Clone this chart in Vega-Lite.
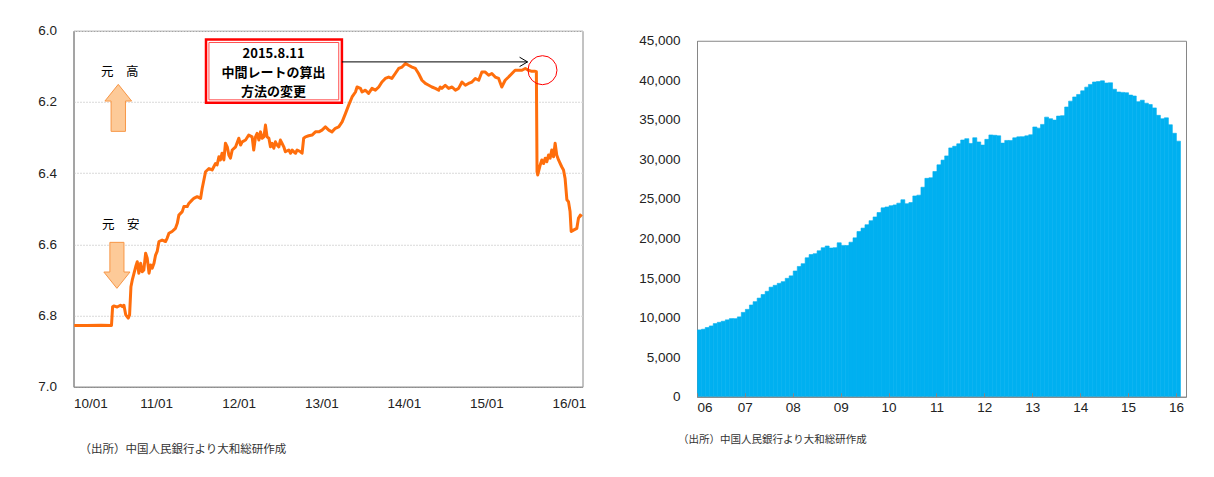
{
  "$schema": "https://vega.github.io/schema/vega-lite/v6.json",
  "padding": {"left": 36.5, "top": 22.5, "right": 0, "bottom": 0},
  "background": "white",
  "spacing": 51.5,
  "center": true,
  "config": {
    "view": {"stroke": "#868686", "strokeWidth": 1},
    "axis": {
      "labelFont": "Liberation Sans",
      "labelFontSize": 13.5,
      "labelColor": "#222222",
      "domainColor": "#868686",
      "ticks": false,
      "title": null
    }
  },
  "hconcat": [
    {
      "width": 509,
      "height": 356,
      "title": {"text": "（出所）中国人民銀行より大和総研作成", "orient": "bottom", "anchor": "start", "frame": "group", "dx": 6, "offset": 34, "fontSize": 11.5, "fontWeight": "normal", "font": "Noto Sans CJK JP", "color": "#333333"},
      "layer": [
        {
          "data": {"values": [
            {"d": "2010-01-04", "v": 6.828}, {"d": "2010-03-01", "v": 6.828}, {"d": "2010-05-03", "v": 6.827}, {"d": "2010-06-18", "v": 6.828},
            {"d": "2010-06-23", "v": 6.775}, {"d": "2010-06-28", "v": 6.773}, {"d": "2010-07-13", "v": 6.776}, {"d": "2010-07-28", "v": 6.771},
            {"d": "2010-08-05", "v": 6.775}, {"d": "2010-08-12", "v": 6.771}, {"d": "2010-08-20", "v": 6.798}, {"d": "2010-08-31", "v": 6.807},
            {"d": "2010-09-06", "v": 6.798}, {"d": "2010-09-12", "v": 6.719}, {"d": "2010-09-18", "v": 6.700}, {"d": "2010-10-03", "v": 6.663},
            {"d": "2010-10-10", "v": 6.649}, {"d": "2010-10-17", "v": 6.681}, {"d": "2010-10-25", "v": 6.653}, {"d": "2010-11-01", "v": 6.677},
            {"d": "2010-11-08", "v": 6.672}, {"d": "2010-11-16", "v": 6.625}, {"d": "2010-11-23", "v": 6.639}, {"d": "2010-12-01", "v": 6.681},
            {"d": "2010-12-08", "v": 6.658}, {"d": "2010-12-15", "v": 6.667}, {"d": "2010-12-23", "v": 6.653}, {"d": "2010-12-30", "v": 6.630},
            {"d": "2011-01-06", "v": 6.620}, {"d": "2011-01-14", "v": 6.592}, {"d": "2011-01-28", "v": 6.588}, {"d": "2011-02-12", "v": 6.592},
            {"d": "2011-02-19", "v": 6.583}, {"d": "2011-02-27", "v": 6.569}, {"d": "2011-03-13", "v": 6.564}, {"d": "2011-03-28", "v": 6.555},
            {"d": "2011-04-05", "v": 6.541}, {"d": "2011-04-12", "v": 6.518}, {"d": "2011-04-27", "v": 6.508}, {"d": "2011-05-04", "v": 6.494},
            {"d": "2011-05-19", "v": 6.494}, {"d": "2011-05-26", "v": 6.485}, {"d": "2011-06-10", "v": 6.475}, {"d": "2011-06-17", "v": 6.471},
            {"d": "2011-07-02", "v": 6.466}, {"d": "2011-07-17", "v": 6.471}, {"d": "2011-07-24", "v": 6.443}, {"d": "2011-08-08", "v": 6.396},
            {"d": "2011-08-23", "v": 6.387}, {"d": "2011-09-06", "v": 6.391}, {"d": "2011-09-21", "v": 6.373}, {"d": "2011-09-28", "v": 6.377},
            {"d": "2011-10-06", "v": 6.354}, {"d": "2011-10-13", "v": 6.363}, {"d": "2011-10-20", "v": 6.344}, {"d": "2011-10-28", "v": 6.363},
            {"d": "2011-11-04", "v": 6.316}, {"d": "2011-11-12", "v": 6.326}, {"d": "2011-11-19", "v": 6.349}, {"d": "2011-11-26", "v": 6.358},
            {"d": "2011-12-04", "v": 6.335}, {"d": "2011-12-19", "v": 6.326}, {"d": "2012-01-02", "v": 6.302}, {"d": "2012-01-10", "v": 6.321},
            {"d": "2012-01-17", "v": 6.312}, {"d": "2012-02-01", "v": 6.307}, {"d": "2012-02-15", "v": 6.293}, {"d": "2012-03-01", "v": 6.298},
            {"d": "2012-03-08", "v": 6.335}, {"d": "2012-03-16", "v": 6.298}, {"d": "2012-03-23", "v": 6.288}, {"d": "2012-03-31", "v": 6.307},
            {"d": "2012-04-07", "v": 6.284}, {"d": "2012-04-14", "v": 6.302}, {"d": "2012-04-22", "v": 6.298}, {"d": "2012-04-29", "v": 6.265},
            {"d": "2012-05-06", "v": 6.298}, {"d": "2012-05-14", "v": 6.302}, {"d": "2012-05-21", "v": 6.326}, {"d": "2012-05-28", "v": 6.316},
            {"d": "2012-06-05", "v": 6.330}, {"d": "2012-06-12", "v": 6.312}, {"d": "2012-06-19", "v": 6.321}, {"d": "2012-06-27", "v": 6.326},
            {"d": "2012-07-04", "v": 6.307}, {"d": "2012-07-11", "v": 6.316}, {"d": "2012-07-19", "v": 6.326}, {"d": "2012-07-26", "v": 6.340},
            {"d": "2012-08-10", "v": 6.335}, {"d": "2012-08-18", "v": 6.344}, {"d": "2012-08-25", "v": 6.335}, {"d": "2012-09-01", "v": 6.340},
            {"d": "2012-09-09", "v": 6.344}, {"d": "2012-09-16", "v": 6.335}, {"d": "2012-10-01", "v": 6.340}, {"d": "2012-10-08", "v": 6.344},
            {"d": "2012-10-15", "v": 6.302}, {"d": "2012-10-23", "v": 6.298}, {"d": "2012-11-06", "v": 6.295}, {"d": "2012-11-21", "v": 6.293},
            {"d": "2012-12-06", "v": 6.284}, {"d": "2012-12-21", "v": 6.284}, {"d": "2013-01-04", "v": 6.279}, {"d": "2013-01-19", "v": 6.270},
            {"d": "2013-02-03", "v": 6.279}, {"d": "2013-02-17", "v": 6.284}, {"d": "2013-03-04", "v": 6.274}, {"d": "2013-03-19", "v": 6.270},
            {"d": "2013-04-03", "v": 6.256}, {"d": "2013-04-18", "v": 6.232}, {"d": "2013-05-02", "v": 6.209}, {"d": "2013-05-17", "v": 6.186},
            {"d": "2013-06-01", "v": 6.172}, {"d": "2013-06-08", "v": 6.158}, {"d": "2013-06-23", "v": 6.162}, {"d": "2013-06-30", "v": 6.172},
            {"d": "2013-07-15", "v": 6.167}, {"d": "2013-07-29", "v": 6.176}, {"d": "2013-08-13", "v": 6.162}, {"d": "2013-08-28", "v": 6.167},
            {"d": "2013-09-12", "v": 6.158}, {"d": "2013-09-26", "v": 6.144}, {"d": "2013-10-11", "v": 6.134}, {"d": "2013-10-26", "v": 6.130},
            {"d": "2013-11-09", "v": 6.134}, {"d": "2013-11-24", "v": 6.120}, {"d": "2013-12-09", "v": 6.106}, {"d": "2013-12-24", "v": 6.102},
            {"d": "2014-01-08", "v": 6.092}, {"d": "2014-01-22", "v": 6.097}, {"d": "2014-02-06", "v": 6.102}, {"d": "2014-02-21", "v": 6.106},
            {"d": "2014-03-07", "v": 6.120}, {"d": "2014-03-22", "v": 6.139}, {"d": "2014-04-06", "v": 6.148}, {"d": "2014-04-21", "v": 6.153},
            {"d": "2014-05-05", "v": 6.158}, {"d": "2014-05-20", "v": 6.162}, {"d": "2014-06-04", "v": 6.167}, {"d": "2014-06-11", "v": 6.158},
            {"d": "2014-06-18", "v": 6.162}, {"d": "2014-07-03", "v": 6.153}, {"d": "2014-07-18", "v": 6.162}, {"d": "2014-08-02", "v": 6.158},
            {"d": "2014-08-17", "v": 6.167}, {"d": "2014-08-31", "v": 6.162}, {"d": "2014-09-15", "v": 6.144}, {"d": "2014-09-30", "v": 6.153},
            {"d": "2014-10-14", "v": 6.148}, {"d": "2014-10-29", "v": 6.144}, {"d": "2014-11-13", "v": 6.134}, {"d": "2014-11-28", "v": 6.139},
            {"d": "2014-12-12", "v": 6.116}, {"d": "2014-12-27", "v": 6.116}, {"d": "2015-01-11", "v": 6.125}, {"d": "2015-01-25", "v": 6.120},
            {"d": "2015-02-09", "v": 6.130}, {"d": "2015-02-24", "v": 6.134}, {"d": "2015-03-10", "v": 6.158}, {"d": "2015-03-25", "v": 6.139},
            {"d": "2015-04-09", "v": 6.130}, {"d": "2015-04-24", "v": 6.120}, {"d": "2015-05-08", "v": 6.111}, {"d": "2015-05-23", "v": 6.111},
            {"d": "2015-06-07", "v": 6.111}, {"d": "2015-06-22", "v": 6.106}, {"d": "2015-07-06", "v": 6.111}, {"d": "2015-07-21", "v": 6.114},
            {"d": "2015-08-05", "v": 6.114}, {"d": "2015-08-10", "v": 6.115}, {"d": "2015-08-13", "v": 6.396}, {"d": "2015-08-16", "v": 6.405},
            {"d": "2015-08-27", "v": 6.377}, {"d": "2015-09-03", "v": 6.363}, {"d": "2015-09-11", "v": 6.373}, {"d": "2015-09-18", "v": 6.358},
            {"d": "2015-09-25", "v": 6.368}, {"d": "2015-10-03", "v": 6.349}, {"d": "2015-10-10", "v": 6.358}, {"d": "2015-10-17", "v": 6.335},
            {"d": "2015-10-25", "v": 6.354}, {"d": "2015-11-01", "v": 6.316}, {"d": "2015-11-08", "v": 6.349}, {"d": "2015-11-16", "v": 6.363},
            {"d": "2015-11-30", "v": 6.382}, {"d": "2015-12-08", "v": 6.391}, {"d": "2015-12-15", "v": 6.415}, {"d": "2015-12-23", "v": 6.475},
            {"d": "2015-12-30", "v": 6.480}, {"d": "2016-01-06", "v": 6.508}, {"d": "2016-01-11", "v": 6.564}, {"d": "2016-01-21", "v": 6.560},
            {"d": "2016-02-05", "v": 6.555}, {"d": "2016-02-12", "v": 6.527}, {"d": "2016-02-20", "v": 6.518}, {"d": "2016-02-27", "v": 6.522}
          ]},
          "mark": {"type": "line", "color": "#FF6E0C", "strokeWidth": 3, "strokeJoin": "round"},
          "encoding": {
            "x": {"field": "d", "type": "temporal", "scale": {"domain": ["2010-01-01", "2016-03-01"]},
              "axis": {"title": null, "format": "%y/%m", "labelPadding": 10, "grid": false,
                "values": [{"year": 2010, "month": 1, "date": 1}, {"year": 2011, "month": 1, "date": 1}, {"year": 2012, "month": 1, "date": 1}, {"year": 2013, "month": 1, "date": 1}, {"year": 2014, "month": 1, "date": 1}, {"year": 2015, "month": 1, "date": 1}, {"year": 2016, "month": 1, "date": 1}]}},
            "y": {"field": "v", "type": "quantitative", "scale": {"domain": [6.0, 7.0], "reverse": true, "zero": false, "nice": false},
              "axis": {"title": null, "values": [6.0, 6.2, 6.4, 6.6, 6.8, 7.0], "format": ".1f", "grid": true, "gridColor": "#d9d9d9", "gridDash": [2, 1], "labelPadding": 17}}
          }
        },
        {
          "data": {"values": [{"x1": "2011-08-10", "x2": "2013-04-02", "y1": 6.0247, "y2": 6.2025}]},
          "mark": {"type": "rect", "fill": "white", "stroke": "#FF0000", "strokeWidth": 2.5},
          "encoding": {"x": {"field": "x1", "type": "temporal"}, "x2": {"field": "x2"}, "y": {"field": "y1", "type": "quantitative"}, "y2": {"field": "y2"}}
        },
        {
          "data": {"values": [{"x1": "2011-08-23", "x2": "2013-03-19", "y1": 6.033, "y2": 6.194}]},
          "mark": {"type": "rect", "fill": "white", "stroke": "#FF5050", "strokeWidth": 1},
          "encoding": {"x": {"field": "x1", "type": "temporal"}, "x2": {"field": "x2"}, "y": {"field": "y1", "type": "quantitative"}, "y2": {"field": "y2"}}
        },
        {
          "data": {"values": [
            {"t": "2015.8.11", "x": "2012-06-04", "y": 6.064},
            {"t": "中間レートの算出", "x": "2012-06-04", "y": 6.120},
            {"t": "方法の変更", "x": "2012-06-04", "y": 6.172}
          ]},
          "mark": {"type": "text", "font": "Noto Sans CJK JP", "fontSize": 13, "fontWeight": "bold", "color": "black", "align": "center", "baseline": "middle"},
          "encoding": {"x": {"field": "x", "type": "temporal"}, "y": {"field": "y", "type": "quantitative"}, "text": {"field": "t"}}
        },
        {
          "data": {"values": [{"x1": "2013-04-02", "x2": "2015-07-02", "y": 6.0875}]},
          "mark": {"type": "rule", "color": "black", "strokeWidth": 1},
          "encoding": {"x": {"field": "x1", "type": "temporal"}, "x2": {"field": "x2"}, "y": {"field": "y", "type": "quantitative"}}
        },
        {
          "data": {"values": [{"x": "2015-07-02", "y": 6.0875}]},
          "mark": {"type": "point", "shape": "M-1.7,-1L0,0L-1.7,1", "size": 88, "filled": false, "stroke": "black", "strokeWidth": 1, "opacity": 1},
          "encoding": {"x": {"field": "x", "type": "temporal"}, "y": {"field": "y", "type": "quantitative"}}
        },
        {
          "data": {"values": [{"x": "2015-09-06", "y": 6.1108}]},
          "mark": {"type": "point", "shape": "circle", "size": 841, "filled": false, "stroke": "#FF0000", "strokeWidth": 1, "opacity": 1},
          "encoding": {"x": {"field": "x", "type": "temporal"}, "y": {"field": "y", "type": "quantitative"}}
        },
        {
          "data": {"values": [{"x": "2010-07-18", "y": 6.2166}]},
          "mark": {"type": "point", "shape": "M0,-1L0.568,-0.29L0.306,-0.29L0.306,1L-0.306,1L-0.306,-0.29L-0.568,-0.29Z", "size": 2209, "filled": true, "fill": "#FDCA98", "stroke": "#F79646", "strokeWidth": 1, "opacity": 1},
          "encoding": {"x": {"field": "x", "type": "temporal"}, "y": {"field": "y", "type": "quantitative"}}
        },
        {
          "data": {"values": [{"x": "2010-07-12", "y": 6.659}]},
          "mark": {"type": "point", "shape": "M0,1L0.568,0.29L0.306,0.29L0.306,-1L-0.306,-1L-0.306,0.29L-0.568,0.29Z", "size": 2116, "filled": true, "fill": "#FDCA98", "stroke": "#F79646", "strokeWidth": 1, "opacity": 1},
          "encoding": {"x": {"field": "x", "type": "temporal"}, "y": {"field": "y", "type": "quantitative"}}
        },
        {
          "data": {"values": [{"t": "元　高", "x": "2010-07-25", "y": 6.116}, {"t": "元　安", "x": "2010-07-29", "y": 6.546}]},
          "mark": {"type": "text", "font": "Noto Sans CJK JP", "fontSize": 12.5, "color": "black", "align": "center", "baseline": "middle"},
          "encoding": {"x": {"field": "x", "type": "temporal"}, "y": {"field": "y", "type": "quantitative"}, "text": {"field": "t"}}
        }
      ]
    },
    {
      "width": 489,
      "height": 356,
      "title": {"text": "（出所）中国人民銀行より大和総研作成", "orient": "bottom", "anchor": "start", "frame": "group", "dx": -19, "offset": 21, "fontSize": 10.5, "fontWeight": "normal", "font": "Noto Sans CJK JP", "color": "#333333"},
      "data": {"values": [
        {"m": "2006-01-01", "r": 8451}, {"m": "2006-02-01", "r": 8537}, {"m": "2006-03-01", "r": 8751}, {"m": "2006-04-01", "r": 8950},
        {"m": "2006-05-01", "r": 9250}, {"m": "2006-06-01", "r": 9411}, {"m": "2006-07-01", "r": 9545}, {"m": "2006-08-01", "r": 9720},
        {"m": "2006-09-01", "r": 9879}, {"m": "2006-10-01", "r": 9873}, {"m": "2006-11-01", "r": 10096}, {"m": "2006-12-01", "r": 10663},
        {"m": "2007-01-01", "r": 11047}, {"m": "2007-02-01", "r": 11601}, {"m": "2007-03-01", "r": 12020}, {"m": "2007-04-01", "r": 12470},
        {"m": "2007-05-01", "r": 12926}, {"m": "2007-06-01", "r": 13326}, {"m": "2007-07-01", "r": 13853}, {"m": "2007-08-01", "r": 14086},
        {"m": "2007-09-01", "r": 14336}, {"m": "2007-10-01", "r": 14548}, {"m": "2007-11-01", "r": 14968}, {"m": "2007-12-01", "r": 15282},
        {"m": "2008-01-01", "r": 15898}, {"m": "2008-02-01", "r": 16471}, {"m": "2008-03-01", "r": 16822}, {"m": "2008-04-01", "r": 17566},
        {"m": "2008-05-01", "r": 17970}, {"m": "2008-06-01", "r": 18088}, {"m": "2008-07-01", "r": 18452}, {"m": "2008-08-01", "r": 18841},
        {"m": "2008-09-01", "r": 19056}, {"m": "2008-10-01", "r": 18797}, {"m": "2008-11-01", "r": 18847}, {"m": "2008-12-01", "r": 19460},
        {"m": "2009-01-01", "r": 19134}, {"m": "2009-02-01", "r": 19121}, {"m": "2009-03-01", "r": 19537}, {"m": "2009-04-01", "r": 20089},
        {"m": "2009-05-01", "r": 20891}, {"m": "2009-06-01", "r": 21316}, {"m": "2009-07-01", "r": 21746}, {"m": "2009-08-01", "r": 22257},
        {"m": "2009-09-01", "r": 22726}, {"m": "2009-10-01", "r": 23283}, {"m": "2009-11-01", "r": 23876}, {"m": "2009-12-01", "r": 23992},
        {"m": "2010-01-01", "r": 24153}, {"m": "2010-02-01", "r": 24247}, {"m": "2010-03-01", "r": 24471}, {"m": "2010-04-01", "r": 24905},
        {"m": "2010-05-01", "r": 24395}, {"m": "2010-06-01", "r": 24543}, {"m": "2010-07-01", "r": 25380}, {"m": "2010-08-01", "r": 25483},
        {"m": "2010-09-01", "r": 26483}, {"m": "2010-10-01", "r": 27609}, {"m": "2010-11-01", "r": 27679}, {"m": "2010-12-01", "r": 28473},
        {"m": "2011-01-01", "r": 29317}, {"m": "2011-02-01", "r": 29914}, {"m": "2011-03-01", "r": 30447}, {"m": "2011-04-01", "r": 31458},
        {"m": "2011-05-01", "r": 31664}, {"m": "2011-06-01", "r": 31975}, {"m": "2011-07-01", "r": 32453}, {"m": "2011-08-01", "r": 32625},
        {"m": "2011-09-01", "r": 32017}, {"m": "2011-10-01", "r": 32738}, {"m": "2011-11-01", "r": 32209}, {"m": "2011-12-01", "r": 31811},
        {"m": "2012-01-01", "r": 32536}, {"m": "2012-02-01", "r": 33096}, {"m": "2012-03-01", "r": 33050}, {"m": "2012-04-01", "r": 32989},
        {"m": "2012-05-01", "r": 32061}, {"m": "2012-06-01", "r": 32400}, {"m": "2012-07-01", "r": 32400}, {"m": "2012-08-01", "r": 32729},
        {"m": "2012-09-01", "r": 32851}, {"m": "2012-10-01", "r": 32874}, {"m": "2012-11-01", "r": 32977}, {"m": "2012-12-01", "r": 33116},
        {"m": "2013-01-01", "r": 34100}, {"m": "2013-02-01", "r": 33954}, {"m": "2013-03-01", "r": 34426}, {"m": "2013-04-01", "r": 35345},
        {"m": "2013-05-01", "r": 35148}, {"m": "2013-06-01", "r": 34967}, {"m": "2013-07-01", "r": 35478}, {"m": "2013-08-01", "r": 35530},
        {"m": "2013-09-01", "r": 36627}, {"m": "2013-10-01", "r": 37367}, {"m": "2013-11-01", "r": 37894}, {"m": "2013-12-01", "r": 38213},
        {"m": "2014-01-01", "r": 38666}, {"m": "2014-02-01", "r": 39137}, {"m": "2014-03-01", "r": 39481}, {"m": "2014-04-01", "r": 39788},
        {"m": "2014-05-01", "r": 39839}, {"m": "2014-06-01", "r": 39932}, {"m": "2014-07-01", "r": 39660}, {"m": "2014-08-01", "r": 39688},
        {"m": "2014-09-01", "r": 38877}, {"m": "2014-10-01", "r": 38529}, {"m": "2014-11-01", "r": 38474}, {"m": "2014-12-01", "r": 38430},
        {"m": "2015-01-01", "r": 38134}, {"m": "2015-02-01", "r": 38015}, {"m": "2015-03-01", "r": 37300}, {"m": "2015-04-01", "r": 37481},
        {"m": "2015-05-01", "r": 37111}, {"m": "2015-06-01", "r": 36938}, {"m": "2015-07-01", "r": 36513}, {"m": "2015-08-01", "r": 35574},
        {"m": "2015-09-01", "r": 35141}, {"m": "2015-10-01", "r": 35255}, {"m": "2015-11-01", "r": 34383}, {"m": "2015-12-01", "r": 33304},
        {"m": "2016-01-01", "r": 32309}
      ]},
      "mark": {"type": "bar", "color": "#00B0F0", "stroke": "#00B0F0", "strokeWidth": 0.6, "binSpacing": 0},
      "encoding": {
        "x": {"field": "m", "timeUnit": "yearmonth", "type": "temporal", "scale": {"domain": ["2006-01-01", "2016-03-18"]},
          "axis": {"title": null, "format": "%y", "labelPadding": 8, "grid": false, "ticks": true, "tickSize": -4, "tickColor": "#868686", "zindex": 1,
            "values": [{"year": 2006, "month": 1, "date": 1}, {"year": 2007, "month": 1, "date": 1}, {"year": 2008, "month": 1, "date": 1}, {"year": 2009, "month": 1, "date": 1}, {"year": 2010, "month": 1, "date": 1}, {"year": 2011, "month": 1, "date": 1}, {"year": 2012, "month": 1, "date": 1}, {"year": 2013, "month": 1, "date": 1}, {"year": 2014, "month": 1, "date": 1}, {"year": 2015, "month": 1, "date": 1}, {"year": 2016, "month": 1, "date": 1}]}},
        "y": {"field": "r", "type": "quantitative", "scale": {"domain": [0, 45000], "nice": false},
          "axis": {"title": null, "values": [0, 5000, 10000, 15000, 20000, 25000, 30000, 35000, 40000, 45000], "format": ",d", "grid": false, "labelPadding": 17, "labelOverlap": false}}
      }
    }
  ]
}
